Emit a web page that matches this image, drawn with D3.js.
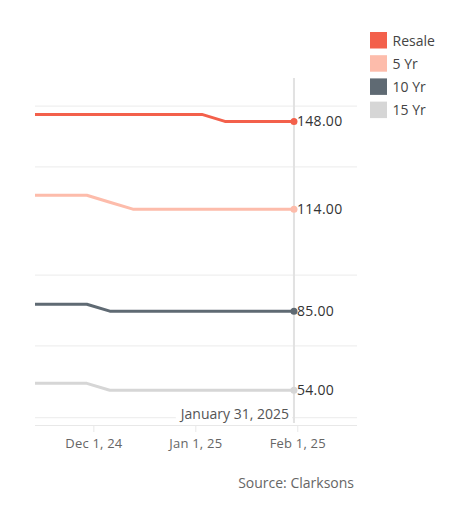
<!DOCTYPE html>
<html>
<head>
<meta charset="utf-8">
<script src="https://cdn.jsdelivr.net/npm/d3@7"></script>
<style>
  html, body { margin: 0; padding: 0; background: #fff; }
  svg { display: block; font-family: "Open Sans", "Noto Sans", sans-serif; }
</style>
</head>
<body>
<svg id="chart" width="467" height="526"></svg>
<script>
// ---- data ----
const dates = ["2024-11-08","2024-11-15","2024-11-22","2024-11-29","2024-12-06","2024-12-13",
               "2024-12-20","2024-12-27","2025-01-03","2025-01-10","2025-01-17","2025-01-24","2025-01-31"];
const seriesNames = ["Resale", "5 Yr", "10 Yr", "15 Yr"];
const resale = [150,150,150,150,150,150,150,150,150,148,148,148,148];
const yr5    = [118,118,118,118,116,114,114,114,114,114,114,114,114];
const yr10   = [87,87,87,87,85,85,85,85,85,85,85,85,85];
const yr15   = [56,56,56,56,54,54,54,54,54,54,54,54,54];
// independent axis range for each pane (top value, bottom value)
const paneRanges = [[160.5,135.5],[126.8,101.8],[102.2,77.2],[69,44]];
// unlabelled gridline values in each pane
const paneGrid = [[152.4],[126.2],[95.4],[66.8,46.1]];
const xTickDates = ["2024-12-01","2025-01-01","2025-02-01"];
const xTickLabels = ["Dec 1, 24","Jan 1, 25","Feb 1, 25"];
const markerDate = "2025-01-31";
const markerLabel = "January 31, 2025";
const sourceText = "Source: Clarksons";
const colors = ["#f3604b", "#fdbcab", "#5f6a73", "#d6d6d6"];

// ---- build ----
const parse = d3.utcParse("%Y-%m-%d");
const seriesValues = [resale, yr5, yr10, yr15];
const series = seriesNames.map((name, i) => ({
  name, color: colors[i], range: paneRanges[i], grid: paneGrid[i],
  values: dates.map((d, j) => ({ date: parse(d), value: seriesValues[i][j] }))
}));

const svg = d3.select("#chart");
const plot = { left: 35, right: 357, top: 78, bottom: 425 };

const x = d3.scaleUtc()
  .domain([new Date(Date.UTC(2024,10,13,6)), new Date(Date.UTC(2025,1,19,4))])
  .range([plot.left, plot.right]);

const pane = d3.scaleBand().domain(seriesNames).range([plot.top, plot.bottom]).padding(0);

series.forEach(s => {
  const top = pane(s.name);
  s.y = d3.scaleLinear().domain([s.range[1], s.range[0]]).range([top + pane.bandwidth(), top]);
});

svg.append("defs").append("clipPath").attr("id", "clip")
  .append("rect").attr("x", plot.left).attr("y", plot.top - 10)
  .attr("width", plot.right - plot.left).attr("height", plot.bottom - plot.top + 10);

// gridlines
const gridG = svg.append("g");
series.forEach(s => {
  s.grid.forEach(g => {
    gridG.append("line")
      .attr("x1", plot.left).attr("x2", plot.right)
      .attr("y1", s.y(g)).attr("y2", s.y(g))
      .attr("stroke", "#efefef").attr("stroke-width", 1.3);
  });
});

// x axis
const xAxis = d3.axisBottom(x)
  .tickValues(xTickDates.map(parse))
  .tickFormat((d, i) => xTickLabels[i])
  .tickSize(7).tickPadding(7);
const axG = svg.append("g").attr("transform", `translate(0,${plot.bottom})`).call(xAxis);
axG.select(".domain").attr("stroke", "#e8e8e8").attr("d", `M${plot.left},0.5H${plot.right}`);
axG.selectAll(".tick line").attr("stroke", "#e8e8e8");
axG.selectAll(".tick text").attr("fill", "#666").attr("font-size", 13)
  .attr("font-family", "'Open Sans', sans-serif").attr("letter-spacing", "0.2px");

// marker vertical line
const mx = x(parse(markerDate));
svg.append("line").attr("x1", mx).attr("x2", mx)
  .attr("y1", plot.top).attr("y2", plot.bottom - 2)
  .attr("stroke", "#e2e2e2").attr("stroke-width", 2);

// lines
const linesG = svg.append("g").attr("clip-path", "url(#clip)");
series.forEach(s => {
  const line = d3.line().x(d => x(d.date)).y(d => s.y(d.value));
  linesG.append("path").datum(s.values)
    .attr("fill", "none").attr("stroke", s.color).attr("stroke-width", 3)
    .attr("stroke-linejoin", "round").attr("d", line);
});

// end dots + labels
series.forEach(s => {
  const last = s.values[s.values.length - 1];
  svg.append("circle").attr("cx", x(last.date)).attr("cy", s.y(last.value))
    .attr("r", 3.5).attr("fill", s.color);
  svg.append("text").attr("x", x(last.date) + 3).attr("y", s.y(last.value))
    .attr("dy", "0.36em").attr("font-size", 14).attr("letter-spacing", "0.3px")
    .attr("fill", "#333")
    .text(d3.format(".2f")(last.value));
});

// marker date label
const mlab = svg.append("text").attr("x", mx - 5).attr("y", plot.bottom - 6)
  .attr("text-anchor", "end").attr("font-size", 14).attr("fill", "#555")
  .text(markerLabel);
const bb = mlab.node().getBBox();
svg.insert("rect", () => mlab.node())
  .attr("x", bb.x - 3).attr("y", bb.y).attr("width", bb.width + 6).attr("height", bb.height)
  .attr("fill", "#fff");

// legend
const leg = svg.append("g").attr("transform", "translate(370,32)");
series.forEach((s, i) => {
  const g = leg.append("g").attr("transform", `translate(0,${i * 23.2})`);
  g.append("rect").attr("width", 17).attr("height", 16.5).attr("fill", s.color);
  g.append("text").attr("x", 22.5).attr("y", 8.5).attr("dy", "0.36em")
    .attr("font-size", 14).attr("fill", "#444").text(s.name);
});

// source
svg.append("text").attr("x", 354).attr("y", 488).attr("text-anchor", "end")
  .attr("font-size", 14).attr("fill", "#666").text(sourceText);
</script>
</body>
</html>
